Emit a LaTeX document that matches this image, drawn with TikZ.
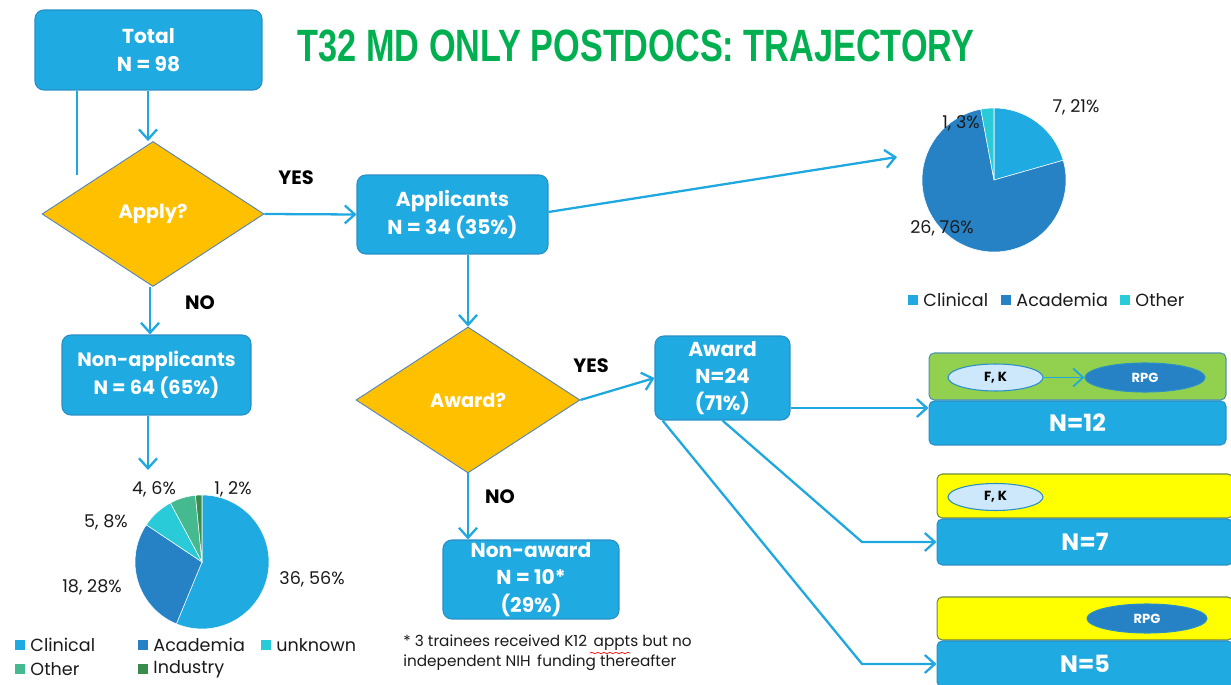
\documentclass[tikz,border=0pt]{standalone}
\usepackage{fontspec}
\usepackage{graphicx}
\setmainfont{Poppins}
\newfontfamily\titlefont{Liberation Sans}
\usetikzlibrary{arrows.meta,positioning,shapes.geometric,decorations.pathmorphing}
\definecolor{boxblue}{HTML}{1FAAE1}
\definecolor{boxedge}{HTML}{2A8FC7}
\definecolor{linkblue}{HTML}{1FA8E0}
\definecolor{amber}{HTML}{FFC000}
\definecolor{diaedge}{HTML}{4F81BD}
\definecolor{academia}{HTML}{2682C5}
\definecolor{turq}{HTML}{2ACBD9}
\definecolor{othergreen}{HTML}{45B98F}
\definecolor{industry}{HTML}{3A8B4E}
\definecolor{limefill}{HTML}{92D050}
\definecolor{limeedge}{HTML}{4F8FB0}
\definecolor{yellowfill}{HTML}{FFFF00}
\definecolor{yellowedge}{HTML}{6E8B3D}
\definecolor{paleblue}{HTML}{CCE8FA}
\definecolor{titlegreen}{HTML}{00B050}
\definecolor{ink}{HTML}{1A1A1A}
\tikzset{
  flowbox/.style={draw=boxedge,fill=boxblue,line width=0.6pt,rounded corners=5pt,
                  align=center,text=white,inner sep=1pt,
                  font=\fontsize{11.5}{16}\selectfont\bfseries},
  decision/.style={diamond,draw=diaedge,fill=amber,line width=0.5pt,inner sep=0pt,
                   text=white,font=\fontsize{11}{14}\selectfont\bfseries},
  band/.style={draw=boxedge,fill=boxblue,line width=0.6pt,rounded corners=3pt,
               text=white,font=\fontsize{13.5}{16}\selectfont\bfseries},
  limeband/.style={draw=limeedge,fill=limefill,line width=0.6pt,rounded corners=3pt},
  yellowband/.style={draw=yellowedge,fill=yellowfill,line width=0.6pt,rounded corners=3pt},
  fkoval/.style={ellipse,draw=boxedge,fill=paleblue,line width=0.6pt,inner sep=0pt,
                 minimum width=1.9cm,minimum height=0.54cm,text=black,
                 font=\fontsize{7.5}{9}\selectfont\bfseries},
  rpgoval/.style={ellipse,draw=boxedge,fill=academia,line width=0.6pt,inner sep=0pt,
                  minimum width=2.4cm,minimum height=0.58cm,text=white,
                  font=\fontsize{7.5}{9}\selectfont\bfseries},
  arr/.style={-{Straight Barb[length=2mm,width=3.6mm]},line width=1.3pt,draw=linkblue},
  plainline/.style={line width=1.3pt,draw=linkblue},
  answer/.style={font=\fontsize{11}{14}\selectfont\bfseries,text=black},
  pielabel/.style={font=\fontsize{10}{12}\selectfont,text=ink,inner sep=0pt},
  slice/.style={draw=white,line width=0.3pt},
  legendkey/.style={fill=#1,minimum size=1.9mm,inner sep=0pt},
  legendtext/.style={font=\fontsize{10}{12}\selectfont,text=ink,inner sep=0pt}
}
\begin{document}
\begin{tikzpicture}[x=0.02cm,y=-0.02cm]
  \useasboundingbox (0,0) rectangle (1231,685);
  \clip (0,0) rectangle (1231,685);

  \node[inner sep=0pt,text=titlegreen] (title) at (636,46)
    {\titlefont\bfseries\resizebox{385pt}{18pt}{T32 MD ONLY POSTDOCS: TRAJECTORY}};

  % main flow
  \node[flowbox,minimum width=4.54cm,minimum height=1.6cm] (total) at (148.5,50)
    {Total\\N = 98};
  \node[decision,minimum width=4.44cm,minimum height=2.9cm] (apply) at (153,214)
    {Apply?};
  \node[flowbox,minimum width=3.82cm,minimum height=1.58cm] (applicants) at (452.5,214.5)
    {Applicants\\N = 34 (35\%)};
  \node[flowbox,minimum width=3.78cm,minimum height=1.6cm,
        font=\fontsize{11}{16}\selectfont\bfseries] (nonapp) at (156.5,375)
    {Non-applicants\\N = 64 (65\%)};
  \node[decision,minimum width=4.48cm,minimum height=2.92cm] (award) at (468,400)
    {Award?};
  \node[flowbox,minimum width=2.7cm,minimum height=1.68cm,
        font=\fontsize{11.5}{15.5}\selectfont\bfseries] (awardbox) at (722.5,378)
    {Award\\N=24\\(71\%)};
  \node[flowbox,minimum width=3.52cm,minimum height=1.58cm,
        font=\fontsize{11.5}{15.5}\selectfont\bfseries] (nonaward) at (531,579.5)
    {Non-award\\N = 10*\\(29\%)};

  \node[answer] (yes1) at (296,178) {YES};
  \node[answer] (no1) at (200,303) {NO};
  \node[answer] (yes2) at (591,366) {YES};
  \node[answer] (no2) at (500,497) {NO};

  % outcome bands
  \node[limeband,minimum width=5.94cm,minimum height=0.94cm] (lime) at (1077.5,376.5) {};
  \node[band,minimum width=5.94cm,minimum height=0.88cm] (n12) at (1077.5,423) {N=12};
  \node[yellowband,minimum width=5.92cm,minimum height=0.88cm] (yellow7) at (1085,496) {};
  \node[band,minimum width=5.92cm,minimum height=0.92cm] (n7) at (1085,542) {N=7};
  \node[yellowband,minimum width=5.92cm,minimum height=0.86cm] (yellow5) at (1085,618.5) {};
  \node[band,minimum width=5.92cm,minimum height=0.92cm] (n5) at (1085,664) {N=5};

  \node[fkoval] (fk12) at (995.5,377.5) {F, K};
  \node[rpgoval] (rpg12) at (1145,377.5) {RPG};
  \node[fkoval] (fk7) at (995.5,497) {F, K};
  \node[rpgoval] (rpg5) at (1147,618.5) {RPG};

  \coordinate (stub) at (77,175);
  \coordinate (toppiein) at (897,157);
  \coordinate (botpiein) at (148,470);
  \coordinate (bend7) at (862,542);
  \coordinate (bend5) at (862,664);

  \draw[plainline] (total.south -| stub) -- (stub);
  \draw[arr] (total.south -| botpiein) -- (apply.north -| botpiein);
  \draw[arr] (apply.east) -- (applicants.west);
  \draw[arr] ([yshift=0.05cm]applicants.east) -- (toppiein);
  \draw[arr] ([xshift=-0.06cm]apply.south) -- ([xshift=-0.06cm]apply.south |- nonapp.north);
  \draw[arr] (nonapp.south -| botpiein) -- (botpiein);
  \draw[arr] (applicants.south -| award.north) -- (award.north);
  \draw[arr] (award.east) -- (awardbox.west);
  \draw[arr] (award.south) -- (award.south |- nonaward.north);
  \draw[arr] ([yshift=-0.6cm]awardbox.east) -- ([yshift=-0.6cm]awardbox.east -| n12.west);
  \draw[arr] (awardbox.south) -- (bend7) -- (n7.west);
  \draw[arr] ([xshift=-1.2cm]awardbox.south) -- (bend5) -- (n5.west);
  \draw[arr,line width=1pt] (fk12) -- (rpg12);

  % applicants pie
  \begin{scope}[shift={(994,180)},x=1cm,y=1cm]
    \foreach \from/\to/\col in {90/15.9/boxblue,15.9/-259.4/academia,-259.4/-270/turq}
      \filldraw[slice,fill=\col] (0,0) -- (\from:1.44)
        arc[start angle=\from,end angle=\to,radius=1.44cm] -- cycle;
  \end{scope}
  \node[pielabel] (clin34) at (1076,107) {7, 21\%};
  \node[pielabel] (other34) at (961,123) {1, 3\%};
  \node[pielabel] (acad34) at (942,228) {26, 76\%};

  \node[legendkey=boxblue] (keya) at (913,300) {};
  \node[legendtext,right=1mm of keya] {Clinical};
  \node[legendkey=academia] (keyb) at (1006,300) {};
  \node[legendtext,right=1mm of keyb] {Academia};
  \node[legendkey=turq] (keyc) at (1125,300) {};
  \node[legendtext,right=1mm of keyc] {Other};

  % non-applicants pie
  \begin{scope}[shift={(202,562)},x=1cm,y=1cm]
    \foreach \from/\to/\col in {90/-112.5/boxblue,-112.5/-213.75/academia,
        -213.75/-241.875/turq,-241.875/-264.375/othergreen,-264.375/-270/industry}
      \filldraw[slice,fill=\col] (0,0) -- (\from:1.34)
        arc[start angle=\from,end angle=\to,radius=1.34cm] -- cycle;
  \end{scope}
  \node[pielabel] (clin64) at (312,579) {36, 56\%};
  \node[pielabel] (acad64) at (92,587) {18, 28\%};
  \node[pielabel] (unk64) at (106,522) {5, 8\%};
  \node[pielabel] (other64) at (154,489) {4, 6\%};
  \node[pielabel] (ind64) at (233,489) {1, 2\%};

  \node[legendkey=boxblue] (keyd) at (20,645) {};
  \node[legendtext,right=1mm of keyd] {Clinical};
  \node[legendkey=academia] (keye) at (143,645) {};
  \node[legendtext,right=1mm of keye] {Academia};
  \node[legendkey=turq] (keyf) at (266,645) {};
  \node[legendtext,right=1mm of keyf] {unknown};
  \node[legendkey=othergreen] (keyg) at (20,669) {};
  \node[legendtext,right=1mm of keyg] {Other};
  \node[legendkey=industry] (keyh) at (143,669) {};
  \node[legendtext,right=1mm of keyh] {Industry};

  % footnote
  \node[anchor=west,align=left,inner sep=0pt,text=ink,
        font=\fontsize{8.7}{11.5}\selectfont] (note) at (403,653)
    {* 3 trainees received K12\, appts but no\\independent NIH\, funding thereafter};
  \draw[red,line width=0.4pt,decorate,
        decoration={snake,amplitude=0.35pt,segment length=1.2mm}]
    (590,653) -- (630,653);
\end{tikzpicture}
\end{document}
